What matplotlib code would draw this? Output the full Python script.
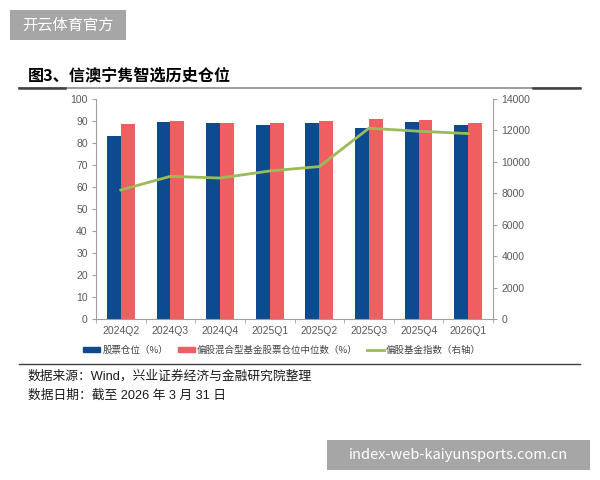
import numpy as np
import matplotlib
matplotlib.use("Agg")
import matplotlib.pyplot as plt
from matplotlib.patches import Rectangle
from matplotlib.lines import Line2D

plt.rcParams['font.family'] = ['Liberation Sans', 'Noto Sans CJK SC', 'DejaVu Sans']

# data
quarters = ['2024Q2', '2024Q3', '2024Q4', '2025Q1', '2025Q2', '2025Q3', '2025Q4', '2026Q1']
stock_pos = [83.1, 89.7, 89.1, 88.0, 89.1, 87.0, 89.7, 88.3]
median_pos = [88.7, 90.2, 89.3, 89.3, 90.0, 91.1, 90.4, 89.2]
fund_index = [8210, 9080, 8970, 9420, 9700, 12140, 11950, 11800]

labels = ['股票仓位（%）', '偏股混合型基金股票仓位中位数（%）', '偏股基金指数（右轴）']

W, H = 600, 480
fig = plt.figure(figsize=(6, 4.8), dpi=100)

def fx(px):
    return px / W

def fy(py):
    return 1 - py / H

# watermark boxes
fig.patches.append(Rectangle((fx(10), fy(40)), fx(116), 30 / H, transform=fig.transFigure,
                             facecolor='#a6a6a6', edgecolor='none'))
fig.text(fx(68), fy(25), '开云体育官方', color='white', fontsize=11, ha='center', va='center',
         family=['Noto Sans CJK SC'])
fig.patches.append(Rectangle((fx(327), fy(470)), fx(263), 30 / H, transform=fig.transFigure,
                             facecolor='#a6a6a6', edgecolor='none'))
fig.text(fx(458), fy(455), 'index-web-kaiyunsports.com.cn', color='white', fontsize=10.5,
         ha='center', va='center', family=['Noto Sans CJK SC', 'DejaVu Sans'])

# title and rules
fig.text(fx(28), fy(75), '图3、信澳宁隽智选历史仓位', fontsize=11.6, fontweight='bold',
         ha='left', va='center', family=['Noto Sans CJK SC'])
fig.add_artist(Line2D([fx(19), fx(580)], [fy(88), fy(88)], color='#8c8c8c', lw=1.2,
                      transform=fig.transFigure))
fig.add_artist(Line2D([fx(19), fx(65)], [fy(88), fy(88)], color='#404040', lw=1.8,
                      transform=fig.transFigure))
fig.add_artist(Line2D([fx(533), fx(580)], [fy(88), fy(88)], color='#404040', lw=1.8,
                      transform=fig.transFigure))
fig.add_artist(Line2D([fx(19), fx(580)], [fy(364), fy(364)], color='#404040', lw=1.0,
                      transform=fig.transFigure))

ax = fig.add_axes([fx(96), fy(319), fx(493 - 96), (319 - 99) / H])
ax2 = ax.twinx()

x = np.arange(len(quarters))
bw = 0.28
ax.bar(x - bw / 2, stock_pos, bw, color='#0d4a90', label=labels[0], zorder=2)
ax.bar(x + bw / 2, median_pos, bw, color='#ef5f61', label=labels[1], zorder=2)
ax2.plot(x, fund_index, color='#9bbb59', lw=2, label=labels[2])

ax.set_xlim(-0.5, len(quarters) - 0.5)
ax.set_ylim(0, 100)
ax.set_yticks(np.arange(0, 101, 10))
ax2.set_ylim(0, 14000)
ax2.set_yticks(np.arange(0, 14001, 2000))

ax.set_xticks(x)
ax.set_xticklabels(quarters)
ax.set_xticks(np.arange(-0.5, len(quarters), 1), minor=True)
ax.tick_params(axis='x', which='major', length=0, pad=5)
ax.tick_params(axis='x', which='minor', length=3, color='#a0a0a0')

for a in (ax, ax2):
    a.tick_params(axis='y', labelsize=7.5, colors='#595959', length=3, color='#a0a0a0', pad=3)
    a.tick_params(axis='x', labelsize=7.5, labelcolor='#595959')
    a.spines['top'].set_visible(False)
    for s in ('left', 'right', 'bottom'):
        a.spines[s].set_color('#a0a0a0')
ax.spines['right'].set_visible(False)
ax2.spines['left'].set_visible(False)
ax2.spines['bottom'].set_visible(False)

handles = [Rectangle((0, 0), 1, 1, color='#0d4a90'),
           Rectangle((0, 0), 1, 1, color='#ef5f61'),
           Line2D([0], [0], color='#9bbb59', lw=2)]
fig.legend(handles, labels, loc='center', bbox_to_anchor=(fx(282), fy(350)), ncol=3,
           frameon=False, handlelength=1.8, handleheight=0.35,
           handletextpad=0.2, columnspacing=1.0, labelcolor='#404040',
           prop={'family': ['Noto Sans CJK SC', 'DejaVu Sans'], 'size': 6.8})

fig.text(fx(28), fy(376), '数据来源：Wind，兴业证券经济与金融研究院整理', fontsize=9.2,
         ha='left', va='center', color='#1a1a1a')
fig.text(fx(28), fy(396), '数据日期：截至 2026 年 3 月 31 日', fontsize=9.2,
         ha='left', va='center', color='#1a1a1a')

fig.savefig('out.png', dpi=100)
